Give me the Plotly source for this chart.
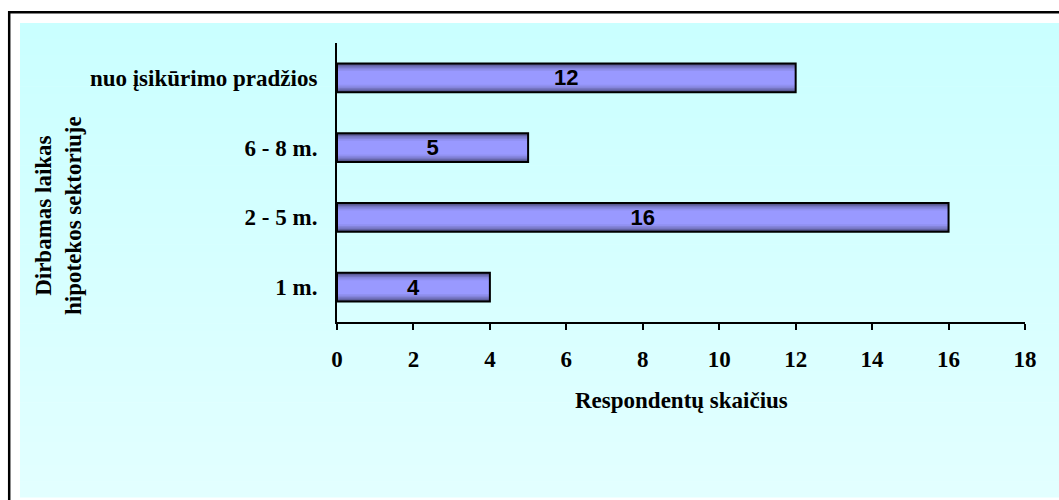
import plotly.graph_objects as go

# Data
categories = ["1 m.", "2 - 5 m.", "6 - 8 m.", "nuo įsikūrimo pradžios"]
respondents = [4, 16, 5, 12]
x_ticks = [0, 2, 4, 6, 8, 10, 12, 14, 16, 18]

y_title = "Dirbamas laikas<br>hipotekos sektoriuje"
x_title = "Respondentų skaičius"

# Plot-area geometry in pixels (figure is 1059 x 500)
W, H = 1059, 500
L, R, T, B = 337, 1025, 43, 322


def px_x(p):
    return (p - L) / (R - L)


def px_y(p):
    return (B - p) / (B - T)


serif = "Liberation Serif, Times New Roman, serif"
sans = "Liberation Sans, Arial, sans-serif"

fig = go.Figure()

# Bars drawn as nested layers to give a vertical shading (dark edges, light middle)
layers = [
    (0.41, "rgb(78,78,128)"),
    (0.37, "rgb(98,98,162)"),
    (0.33, "rgb(118,118,195)"),
    (0.29, "rgb(133,133,220)"),
    (0.25, "rgb(145,145,240)"),
    (0.20, "rgb(153,153,255)"),
]
for w, c in layers:
    fig.add_trace(go.Bar(
        x=respondents, y=categories, orientation="h",
        width=w, marker=dict(color=c, line=dict(width=0)),
        hoverinfo="skip", showlegend=False,
    ))

# Outline and value labels on top
fig.add_trace(go.Bar(
    x=respondents, y=categories, orientation="h",
    width=0.41,
    marker=dict(color="rgba(0,0,0,0)", line=dict(color="black", width=2)),
    text=respondents, texttemplate="%{x}",
    textposition="inside", insidetextanchor="middle",
    textangle=0, constraintext="none",
    textfont=dict(family=sans, size=22, color="black", weight="bold"),
    showlegend=False,
))

shapes = []
# Light cyan backdrop with a soft top-to-bottom fade
top_px, bot_px = 23, 497
c0, c1 = (202, 255, 255), (226, 255, 255)
n = 60
for i in range(n):
    y0p = top_px + (bot_px - top_px) * i / n
    y1p = top_px + (bot_px - top_px) * (i + 1) / n
    t = i / (n - 1)
    col = tuple(round(a + (b - a) * t) for a, b in zip(c0, c1))
    shapes.append(dict(
        type="rect", xref="paper", yref="paper", layer="below",
        x0=px_x(20), x1=px_x(W + 5), y0=px_y(y0p), y1=px_y(y1p + 0.6),
        fillcolor="rgb(%d,%d,%d)" % col, line=dict(width=0),
    ))
# Outer frame: left and top edges
frame = dict(color="black", width=2.5)
shapes.append(dict(type="line", xref="paper", yref="paper", layer="below",
                   x0=px_x(9.2), x1=px_x(9.2), y0=px_y(11), y1=px_y(H + 5),
                   line=frame))
shapes.append(dict(type="line", xref="paper", yref="paper", layer="below",
                   x0=px_x(8), x1=px_x(W + 5), y0=px_y(12.2), y1=px_y(12.2),
                   line=frame))

annotations = [
    dict(text=y_title, xref="paper", yref="paper",
         x=px_x(58), y=px_y(216), textangle=-90, showarrow=False,
         font=dict(family=serif, size=23, color="black", weight="bold"),
         xanchor="center", yanchor="middle"),
    dict(text=x_title, xref="paper", yref="paper",
         x=px_x(681), y=px_y(401), showarrow=False,
         font=dict(family=serif, size=23, color="black", weight="bold"),
         xanchor="center", yanchor="middle"),
]

fig.update_layout(
    width=W, height=H,
    margin=dict(l=L, r=W - R, t=T, b=H - B, pad=0),
    paper_bgcolor="white", plot_bgcolor="rgba(0,0,0,0)",
    barmode="overlay",
    shapes=shapes, annotations=annotations,
    xaxis=dict(
        range=[0, 18], tickvals=x_ticks, ticktext=[str(v) for v in x_ticks],
        showgrid=False, zeroline=False,
        showline=True, linecolor="black", linewidth=2,
        ticks="outside", ticklen=6, tickwidth=2, tickcolor="black",
        ticklabelstandoff=9,
        tickfont=dict(family=serif, size=23, color="black", weight="bold"),
        fixedrange=True,
    ),
    yaxis=dict(
        type="category", categoryorder="array", categoryarray=categories,
        range=[-0.5, 3.5],
        showgrid=False, zeroline=False,
        showline=True, linecolor="black", linewidth=2,
        ticks="", ticklabelstandoff=13,
        tickfont=dict(family=serif, size=23, color="black", weight="bold"),
        fixedrange=True,
    ),
)

# Keep the page from showing scrollbars around the fixed-size figure
fig.write_html(
    "out.html",
    config={"displayModeBar": False},
    post_script="document.documentElement.style.overflow='hidden';"
                "document.body.style.overflow='hidden';"
                "document.body.style.margin='0';",
)
